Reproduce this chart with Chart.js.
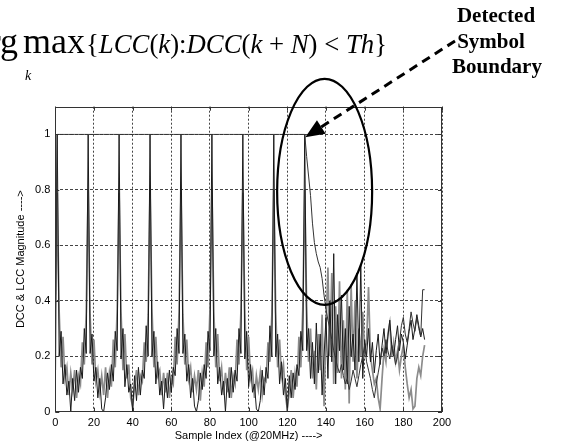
<!DOCTYPE html>
<html><head><meta charset="utf-8">
<script src="https://cdn.jsdelivr.net/npm/chart.js@4"></script>
<style>html,body{margin:0;padding:0;background:#fff;} #wrap{width:562px;height:447px;}</style>
</head><body><div id="wrap"><canvas id="c" width="562" height="447"></canvas></div>
<script>
// ---------- data (sample index 0..191) ----------
const xTickValues = [0, 20, 40, 60, 80, 100, 120, 140, 160, 180, 200];
const yTickValues = [0, 0.2, 0.4, 0.6, 0.8, 1];

// LCC magnitude (gray trace)
const lccGray = [
  0.15,
  0.79,0.36,0.16,0.27,0.12,0.16,0.06,0.14,0.08,0.15,0.05,0.13,0.10,0.25,0.17,0.36,
  0.80,0.35,0.17,0.26,0.11,0.15,0.07,0.13,0.06,0.16,0.05,0.14,0.09,0.26,0.16,0.37,
  0.79,0.36,0.15,0.28,0.12,0.17,0.05,0.02,0.09,0.15,0.06,0.13,0.11,0.25,0.18,0.35,
  0.80,0.37,0.16,0.27,0.13,0.15,0.06,0.14,0.07,0.14,0.05,0.12,0.10,0.27,0.17,0.36,
  0.79,0.35,0.17,0.26,0.12,0.16,0.07,0.13,0.08,0.15,0.04,0.14,0.09,0.25,0.16,0.37,
  0.80,0.36,0.16,0.28,0.11,0.16,0.06,0.14,0.07,0.16,0.05,0.13,0.10,0.26,0.17,0.36,
  0.79,0.37,0.15,0.27,0.12,0.15,0.05,0.13,0.08,0.14,0.06,0.12,0.11,0.25,0.18,0.35,
  0.80,0.36,0.16,0.26,0.13,0.17,0.06,0.01,0.07,0.15,0.05,0.14,0.09,0.27,0.16,0.37,
  0.80,0.38,0.18,0.30,0.12,0.22,0.08,0.28,0.15,0.35,0.02,0.30,0.52,0.20,0.50,0.10,
  0.38,0.14,0.47,0.12,0.33,0.08,0.44,0.03,0.46,0.18,0.40,0.12,0.30,0.20,0.36,0.22,
  0.25,0.45,0.20,0.15,0.10,0.12,0.05,0.01,0.12,0.22,0.18,0.28,0.32,0.20,0.25,0.18,
  0.22,0.15,0.20,0.24,0.16,0.10,0.05,0.08,0.01,0.02,0.12,0.16,0.13,0.20,0.24
];

// LCC magnitude (black trace)
const lccBlack = [
  0.30,
  1.00,0.20,0.29,0.10,0.17,0.06,0.11,0.00,0.12,0.04,0.15,0.07,0.16,0.12,0.30,0.21,
  1.00,0.21,0.28,0.11,0.16,0.05,0.12,0.01,0.00,0.05,0.14,0.08,0.17,0.11,0.29,0.22,
  1.00,0.19,0.30,0.09,0.17,0.07,0.10,0.00,0.13,0.04,0.16,0.06,0.15,0.12,0.31,0.20,
  1.00,0.20,0.29,0.10,0.18,0.06,0.11,0.01,0.12,0.05,0.15,0.07,0.16,0.13,0.30,0.21,
  1.00,0.21,0.28,0.11,0.17,0.05,0.12,0.02,0.00,0.04,0.14,0.08,0.17,0.12,0.29,0.22,
  1.00,0.20,0.30,0.10,0.16,0.06,0.11,0.00,0.12,0.05,0.16,0.07,0.15,0.11,0.30,0.21,
  1.00,0.19,0.29,0.09,0.17,0.07,0.10,0.01,0.00,0.04,0.15,0.06,0.16,0.12,0.31,0.20,
  1.00,0.20,0.28,0.10,0.18,0.06,0.12,0.00,0.13,0.05,0.14,0.08,0.17,0.13,0.29,0.22,
  1.00,0.22,0.30,0.12,0.25,0.10,0.32,0.14,0.28,0.06,0.20,0.34,0.12,0.40,0.18,0.57,
  0.10,0.35,0.22,0.42,0.15,0.30,0.10,0.38,0.20,0.28,0.15,0.50,0.18,0.53,0.12,0.26,
  0.20,0.30,0.18,0.25,0.14,0.22,0.28,0.17,0.24,0.30,0.21,0.27,0.33,0.24,0.20,0.26,
  0.31,0.22,0.28,0.25,0.19,0.24,0.29,0.33,0.26,0.30,0.35,0.31,0.27,0.30,0.26
];

// DCC magnitude
const dcc = [
  0.35,
  1,1,1,1,1,1,1,1,1,1,1,1,1,1,1,1,
  1,1,1,1,1,1,1,1,1,1,1,1,1,1,1,1,
  1,1,1,1,1,1,1,1,1,1,1,1,1,1,1,1,
  1,1,1,1,1,1,1,1,1,1,1,1,1,1,1,1,
  1,1,1,1,1,1,1,1,1,1,1,1,1,1,1,1,
  1,1,1,1,1,1,1,1,1,1,1,1,1,1,1,1,
  1,1,1,1,1,1,1,1,1,1,1,1,1,1,1,1,
  1,1,1,1,1,1,1,1,1,1,1,1,1,1,1,1,
  1,0.92,0.85,0.78,0.68,0.61,0.57,0.54,0.52,0.48,0.42,0.37,0.33,0.30,0.26,0.22,
  0.19,0.16,0.14,0.17,0.13,0.10,0.12,0.08,0.11,0.15,0.12,0.09,0.13,0.17,0.20,0.24,
  0.18,0.15,0.12,0.08,0.05,0.10,0.14,0.18,0.23,0.20,0.26,0.22,0.19,0.24,0.21,0.17,
  0.20,0.25,0.31,0.34,0.28,0.25,0.30,0.36,0.32,0.29,0.34,0.30,0.27,0.44,0.44
];

const toPoints = arr => arr.map((v, i) => ({x: i, y: v}));

// ---------- frame, inward ticks and annotations ----------
const framePlugin = {
  id: 'frame',
  afterDatasetsDraw(chart) {
    const {ctx, chartArea: a, scales: {x, y}} = chart;
    ctx.save();
    ctx.strokeStyle = '#333';
    ctx.lineWidth = 1;
    ctx.setLineDash([]);
    ctx.strokeRect(Math.round(a.left) + 0.5, Math.round(a.top) + 0.5,
                   Math.round(a.right - a.left) - 1, Math.round(a.bottom - a.top) - 1);
    const L = 4;
    ctx.beginPath();
    x.ticks.forEach(t => {
      const px = Math.round(x.getPixelForValue(t.value)) + 0.5;
      ctx.moveTo(px, a.bottom); ctx.lineTo(px, a.bottom - L);
      ctx.moveTo(px, a.top); ctx.lineTo(px, a.top + L);
    });
    y.ticks.forEach(t => {
      const py = Math.round(y.getPixelForValue(t.value)) + 0.5;
      ctx.moveTo(a.left, py); ctx.lineTo(a.left + L, py);
      ctx.moveTo(a.right, py); ctx.lineTo(a.right - L, py);
    });
    ctx.stroke();
    ctx.restore();
  },
  afterDraw(chart) {
    const {ctx, scales: {x, y}} = chart;
    ctx.save();
    ctx.fillStyle = '#000';
    ctx.strokeStyle = '#000';
    ctx.textBaseline = 'alphabetic';

    // formula: arg max_k {LCC(k):DCC(k+N)<Th}
    ctx.font = '36px "Liberation Serif"';
    ctx.textAlign = 'right';
    ctx.fillText('arg', 18, 53);
    ctx.textAlign = 'left';
    const mw = ctx.measureText('max').width;
    ctx.save(); ctx.translate(23, 53); ctx.scale(62 / mw, 1); ctx.fillText('max', 0, 0); ctx.restore();
    ctx.font = 'italic 14px "Liberation Serif"';
    ctx.fillText('k', 25, 80);

    const pieces = [
      ['{', 0], ['LCC', 1], ['(', 0], ['k', 1], [')', 0], [':', 0], ['DCC', 1], ['(', 0],
      ['k', 1], [' + ', 0], ['N', 1], [')', 0], [' < ', 0], ['Th', 1], ['}', 0]
    ];
    const fs = 27;
    const fUp = fs + 'px "Liberation Serif"', fIt = 'italic ' + fs + 'px "Liberation Serif"';
    let total = 0;
    pieces.forEach(p => { ctx.font = p[1] ? fIt : fUp; total += ctx.measureText(p[0]).width; });
    const sx = (387 - 86) / total;
    ctx.save(); ctx.translate(86, 53); ctx.scale(sx, 1);
    let cx = 0;
    pieces.forEach(p => { ctx.font = p[1] ? fIt : fUp; ctx.fillText(p[0], cx, 0); cx += ctx.measureText(p[0]).width; });
    ctx.restore();

    // annotation text
    ctx.font = 'bold 21px "Liberation Serif"';
    ctx.textAlign = 'center';
    ctx.fillText('Detected', 496, 22);
    ctx.fillText('Symbol', 491, 48);
    ctx.fillText('Boundary', 497, 73);

    // ellipse around the boundary region
    const ecx = x.getPixelForValue(139.3), ecy = y.getPixelForValue(0.793);
    ctx.lineWidth = 2.2;
    ctx.beginPath();
    ctx.ellipse(ecx, ecy, 47.5, 113, 0, 0, Math.PI * 2);
    ctx.stroke();

    // dashed arrow
    const tipX = x.getPixelForValue(129.3), tipY = y.getPixelForValue(0.99);
    const tailX = 455, tailY = 41;
    const dx = tipX - tailX, dy = tipY - tailY, len = Math.hypot(dx, dy);
    const ux = dx / len, uy = dy / len;
    const headLen = 19, headW = 8;
    const bx = tipX - ux * headLen, by = tipY - uy * headLen;
    ctx.lineWidth = 3;
    ctx.setLineDash([9, 6]);
    ctx.beginPath(); ctx.moveTo(tailX, tailY); ctx.lineTo(bx, by); ctx.stroke();
    ctx.setLineDash([]);
    ctx.beginPath();
    ctx.moveTo(tipX, tipY);
    ctx.lineTo(bx - uy * headW, by + ux * headW);
    ctx.lineTo(bx + uy * headW, by - ux * headW);
    ctx.closePath(); ctx.fill();
    ctx.restore();
  }
};

const tickFont = {family: '"Liberation Sans", Arial, sans-serif', size: 11};

new Chart(document.getElementById('c'), {
  type: 'line',
  data: {
    datasets: [
      {label: 'LCC', data: toPoints(lccGray), borderColor: '#8c8c8c', borderWidth: 1.7,
       pointRadius: 0, tension: 0, fill: false, order: 3},
      {label: 'LCC (black)', data: toPoints(lccBlack), borderColor: '#1a1a1a', borderWidth: 1,
       pointRadius: 0, tension: 0, fill: false, order: 2},
      {label: 'DCC', data: toPoints(dcc), borderColor: '#333', borderWidth: 1,
       pointRadius: 0, tension: 0, fill: false, order: 1}
    ]
  },
  options: {
    responsive: false,
    animation: false,
    devicePixelRatio: 1,
    layout: {padding: {top: 106.7, right: 120, left: 0, bottom: 0}},
    plugins: {legend: {display: false}, tooltip: {enabled: false}},
    scales: {
      x: {
        type: 'linear', min: 0, max: 200,
        afterBuildTicks: s => { s.ticks = xTickValues.map(v => ({value: v})); },
        afterFit: s => { s.height = 35.3; },
        grid: {color: '#444', lineWidth: 1, drawTicks: false},
        border: {display: false, dash: [2, 2]},
        ticks: {padding: 5, color: '#000', font: tickFont, maxRotation: 0, autoSkip: false,
                callback: v => String(v)},
        title: {display: true, text: 'Sample Index (@20MHz) ---->', color: '#000', font: tickFont,
                padding: {top: 0, bottom: 4.7}}
      },
      y: {
        type: 'linear', min: 0, max: 1.1,
        afterBuildTicks: s => { s.ticks = yTickValues.map(v => ({value: v})); },
        afterFit: s => { s.width = 55.3; },
        grid: {color: '#444', lineWidth: 1, drawTicks: false},
        border: {display: false, dash: [3, 2]},
        ticks: {padding: 5, color: '#000', font: tickFont, autoSkip: false,
                callback: v => String(+Number(v).toFixed(1))},
        title: {display: true, text: 'DCC & LCC Magnitude ---->', color: '#000', font: tickFont,
                padding: {top: 14.4, bottom: 0}}
      }
    }
  },
  plugins: [framePlugin]
});
</script>
</body></html>
